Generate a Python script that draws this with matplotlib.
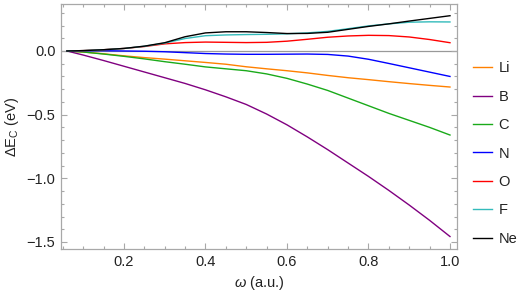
import matplotlib

matplotlib.use("Agg")

import matplotlib.pyplot as plt
from matplotlib.ticker import MultipleLocator

plt.rcParams["font.family"] = ["Liberation Sans", "DejaVu Sans"]
plt.rcParams["mathtext.fontset"] = "custom"
plt.rcParams["mathtext.rm"] = "Liberation Sans"
plt.rcParams["mathtext.it"] = "Liberation Sans:italic"

# omega grid (a.u.)
omega = [0.06, 0.10, 0.15, 0.20, 0.25, 0.30, 0.35, 0.40, 0.45, 0.50,
         0.55, 0.60, 0.65, 0.70, 0.75, 0.80, 0.85, 0.90, 0.95, 1.00]

# Delta E_C (eV) per atom
de_li = [0.0, -0.008, -0.022, -0.038, -0.052, -0.064, -0.077, -0.090, -0.104, -0.124,
         -0.140, -0.155, -0.172, -0.192, -0.210, -0.225, -0.241, -0.256, -0.270, -0.283]
de_b = [0.0, -0.032, -0.075, -0.120, -0.165, -0.210, -0.255, -0.305, -0.360, -0.420,
        -0.495, -0.580, -0.675, -0.775, -0.880, -0.985, -1.095, -1.210, -1.330, -1.457]
de_c = [0.0, -0.008, -0.024, -0.042, -0.062, -0.084, -0.104, -0.125, -0.140, -0.155,
        -0.180, -0.215, -0.260, -0.310, -0.370, -0.430, -0.490, -0.545, -0.600, -0.660]
de_n = [0.0, 0.002, 0.002, 0.0, -0.002, -0.006, -0.013, -0.020, -0.024, -0.026,
        -0.026, -0.025, -0.024, -0.027, -0.040, -0.065, -0.098, -0.132, -0.166, -0.200]
de_o = [0.0, 0.003, 0.010, 0.020, 0.035, 0.056, 0.066, 0.070, 0.068, 0.066,
        0.068, 0.077, 0.092, 0.108, 0.118, 0.123, 0.121, 0.110, 0.090, 0.065]
de_f = [0.0, 0.003, 0.010, 0.020, 0.037, 0.062, 0.098, 0.120, 0.126, 0.129,
        0.131, 0.135, 0.142, 0.154, 0.175, 0.197, 0.213, 0.226, 0.229, 0.228]
de_ne = [0.0, 0.003, 0.010, 0.020, 0.038, 0.065, 0.112, 0.142, 0.151, 0.151,
         0.145, 0.137, 0.138, 0.147, 0.170, 0.193, 0.213, 0.235, 0.256, 0.277]

atoms = ["Li", "B", "C", "N", "O", "F", "Ne"]
series = [de_li, de_b, de_c, de_n, de_o, de_f, de_ne]
colors = ["#ff8000", "#800080", "#1aaa1a", "#0000ff", "#ff0000", "#33bbbb", "#000000"]

frame_gray = "#a8a8a8"

fig = plt.figure(figsize=(5.21, 2.98), dpi=100)
ax = fig.add_axes([61 / 521, 1 - 249 / 298, 396 / 521, 245 / 298])

ax.axhline(0.0, color="#999999", linewidth=0.9, zorder=1)
for name, vals, col in zip(atoms, series, colors):
    ax.plot(omega, vals, color=col, linewidth=1.0, label=name, zorder=2)

ax.set_xlim(0.0454, 1.0172)
ax.set_ylim(-1.555, 0.369)

ax.xaxis.set_major_locator(MultipleLocator(0.2))
ax.xaxis.set_minor_locator(MultipleLocator(0.05))
ax.yaxis.set_major_locator(MultipleLocator(0.5))
ax.yaxis.set_minor_locator(MultipleLocator(0.1))
ax.set_xticks([0.2, 0.4, 0.6, 0.8, 1.0])
ax.set_xticklabels(["0.2", "0.4", "0.6", "0.8", "1.0"])
ax.set_yticks([-1.5, -1.0, -0.5, 0.0])
ax.set_yticklabels(["\u22121.5", "\u22121.0", "\u22120.5", "0.0"])

ax.tick_params(which="both", direction="in", top=True, right=True, color=frame_gray,
               width=0.8, labelsize=10.5, labelcolor="#222222")
ax.tick_params(which="major", length=4.5, pad=4)
ax.tick_params(which="minor", length=2.5)
for sp in ax.spines.values():
    sp.set_color(frame_gray)
    sp.set_linewidth(0.9)

ax.set_xlabel(r"$\it{\omega}$ (a.u.)", fontsize=10.5, color="#222222", labelpad=4)
ax.set_ylabel(r"$\Delta$E$_\mathrm{C}$ (eV)", fontsize=10.5, color="#222222", labelpad=4)

ax.legend(loc="upper left", bbox_to_anchor=(1.025, 0.79), frameon=False,
          fontsize=10.5, handlelength=1.3, handletextpad=0.45, labelspacing=0.99,
          borderaxespad=0.0, labelcolor="#222222")

fig.savefig("out.png", dpi=100)
plt.close(fig)
